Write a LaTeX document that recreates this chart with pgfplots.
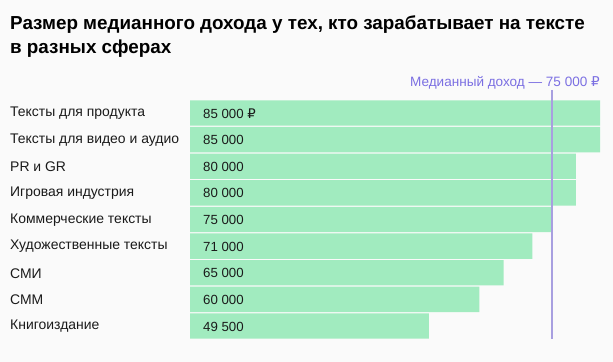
\documentclass[border=0pt]{standalone}
\usepackage{pgfplots}
\pgfplotsset{compat=1.18}
\usepackage{fontspec}
\setmainfont{Liberation Sans}
\newfontfamily\rub{DejaVu Sans}
\definecolor{bg}{HTML}{FAFAFA}
\definecolor{barc}{HTML}{A1EBBF}
\definecolor{med}{HTML}{A89FE0}
\definecolor{medtxt}{HTML}{7B6FE2}
\definecolor{txt}{HTML}{1A1A1A}
\begin{document}
\begin{tikzpicture}
\useasboundingbox (0bp,0bp) rectangle (613bp,362bp);
\fill[bg] (0bp,0bp) rectangle (613bp,362bp);
\node[anchor=base west, inner sep=0pt, text=black, font=\bfseries\fontsize{18.9}{24}\selectfont] at (10bp,332bp) {Размер медианного дохода у тех, кто зарабатывает на тексте};
\node[anchor=base west, inner sep=0pt, text=black, font=\bfseries\fontsize{18.9}{24}\selectfont] at (10bp,308bp) {в разных сферах};
\begin{axis}[
  at={(190bp,22.7bp)}, anchor=south west,
  width=410bp, height=239.6bp, scale only axis,
  xmin=0, xmax=85000, ymin=-0.5, ymax=8.5, y dir=reverse,
  axis line style={draw=none}, major tick length=0pt,
  xtick=\empty, ytick=\empty,
  clip=false,
]
\addplot[xbar, bar width=25.3bp, fill=barc, draw=none] coordinates {(85000,0) (85000,1) (80000,2) (80000,3) (75000,4) (71000,5) (65000,6) (60000,7) (49500,8)};
\addplot[med, line width=1.6pt, forget plot] coordinates {(75000,-0.87) (75000,8.5)};
\foreach \i/\v in {0/{85 000 {\rub ₽}},1/85 000,2/80 000,3/80 000,4/75 000,5/71 000,6/65 000,7/60 000,8/49 500}{
  \edef\tmp{\noexpand\node[anchor=west, inner sep=0pt, text=txt, font=\noexpand\fontsize{13.3}{15}\noexpand\selectfont] at ([xshift=13bp,yshift=-0.5bp]axis cs:0,\i) {\unexpanded\expandafter{\v}};}
  \tmp
}
\foreach \i/\v in {0/Тексты для продукта,1/Тексты для видео и аудио,2/PR и GR,3/Игровая индустрия,4/Коммерческие тексты,5/Художественные тексты,6/СМИ,7/СММ,8/Книгоиздание}{
  \edef\tmp{\noexpand\node[anchor=west, inner sep=0pt, text=txt, font=\noexpand\fontsize{14}{16}\noexpand\selectfont] at ([xshift=-180bp,yshift=-0.5bp]axis cs:0,\i) {\v};}
  \tmp
}
\node[anchor=base east, inner sep=0pt, text=medtxt, font=\fontsize{13.6}{15}\selectfont] at ([yshift=3.5bp]axis cs:85000,-0.87) {Медианный доход — 75 000 {\rub ₽}};
\end{axis}
\end{tikzpicture}
\end{document}
